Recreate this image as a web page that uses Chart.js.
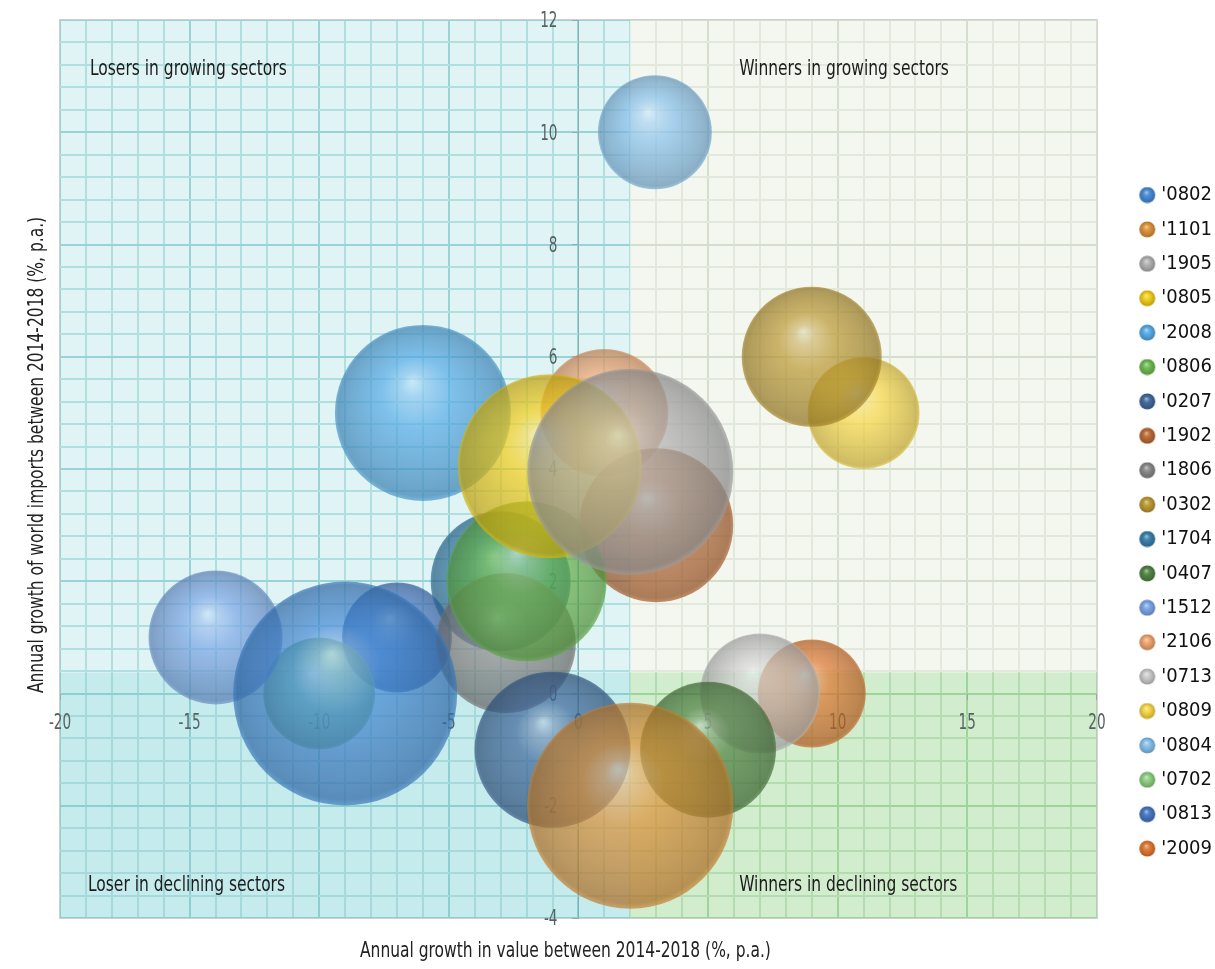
<!DOCTYPE html>
<html>
<head>
<meta charset="utf-8">
<script src="https://cdn.jsdelivr.net/npm/chart.js@4.4.1/dist/chart.umd.min.js"></script>
<style>
  html, body { margin: 0; padding: 0; background: #ffffff; }
  #wrap { position: relative; width: 1215px; height: 969px; }
</style>
</head>
<body>
<div id="wrap"><canvas id="chart" width="1215" height="969"></canvas></div>
<script>
// HS product codes, in legend order
const productCodes = ["'0802", "'1101", "'1905", "'0805", "'2008", "'0806", "'0207", "'1902", "'1806", "'0302",
                      "'1704", "'0407", "'1512", "'2106", "'0713", "'0809", "'0804", "'0702", "'0813", "'2009"];
// Annual growth in value 2014-2018 (%, p.a.)
const valueGrowth = [-9, 2, 2, -1.1, -6, -2, -1, 3, -2.8, 9, -3, 5, -14, 1, 7, 11, 2.95, -10, -7, 9];
// Annual growth of world imports 2014-2018 (%, p.a.)
const importGrowth = [0, -2, 3.95, 4.05, 5, 2, -1, 3, 0.9, 6, 2, -1, 1, 5, 0, 5, 10, 0, 1, 0];
// Bubble size (trade volume indicator)
const tradeSize = [112, 103, 103, 92, 88, 80, 78, 77, 70, 70, 70, 68, 67, 64, 60, 56, 57, 56, 55, 54];
const seriesColors = ['#3f86d4', '#dc8e32', '#adadad', '#f2cc10', '#4fa8e6', '#66b84a', '#3a6398', '#b8642c', '#838383', '#b8942a',
                      '#2f7aa8', '#4a7e3c', '#74a2e4', '#efa068', '#c8c8c8', '#f6d43c', '#80bdea', '#88cc7c', '#3e70c0', '#de7228'];
const xTickValues = [-20, -15, -10, -5, 0, 5, 10, 15, 20];
const yTickValues = [-4, -2, 0, 2, 4, 6, 8, 10, 12];
const quadrantSplit = { x: 2, y: 0.38 };
const quadrantLabels = ['Losers in growing sectors', 'Winners in growing sectors', 'Loser in declining sectors', 'Winners in declining sectors'];
const xTitle = 'Annual growth in value between 2014-2018 (%, p.a.)';
const yTitle = 'Annual growth of world imports between 2014-2018 (%, p.a.)';

const FONT = "'DejaVu Sans Condensed', 'Liberation Sans Narrow', Roboto, sans-serif";
const SIZE_TO_PX = 1;
const BUBBLE_ALPHA = 0.68;
const TEXT_SQUEEZE = 0.82;
const TICK_SQUEEZE = 0.72;

function hexToRgb(h) {
  const n = parseInt(h.slice(1), 16);
  return [(n >> 16) & 255, (n >> 8) & 255, n & 255];
}
function mix(rgb, target, t) {
  return rgb.map((c, i) => Math.round(c + (target[i] - c) * t));
}
function rgba(rgb, a) {
  return `rgba(${rgb[0]},${rgb[1]},${rgb[2]},${a})`;
}
// glassy sphere shading: bright highlight up-left, deeper rim
function sphereGradient(ctx, cx, cy, r, hex, alpha) {
  const base = hexToRgb(hex);
  const hx = cx - 0.12 * r, hy = cy - 0.36 * r;
  const g = ctx.createRadialGradient(hx, hy, 0, cx, cy, r);
  g.addColorStop(0, rgba(mix(base, [235, 255, 255], 0.7), alpha));
  g.addColorStop(0.14, rgba(mix(base, [255, 255, 255], 0.32), alpha));
  g.addColorStop(0.4, rgba(base, alpha));
  g.addColorStop(0.84, rgba(mix(base, [0, 0, 0], 0.17), alpha + 0.03));
  g.addColorStop(0.96, rgba(mix(base, [0, 0, 0], 0.22), alpha + 0.05));
  g.addColorStop(1, rgba(mix(base, [0, 0, 0], 0.1), alpha));
  return g;
}
// legend marker: sphere sitting in the right part of a wider transparent tile
function legendIcon(hex) {
  const c = document.createElement('canvas');
  c.width = 50; c.height = 17;
  const g = c.getContext('2d');
  g.fillStyle = sphereGradient(g, 41, 8.5, 8, hex, 0.94);
  g.beginPath(); g.arc(41, 8.5, 8, 0, Math.PI * 2); g.fill();
  return c;
}
const legendIcons = seriesColors.map(legendIcon);

const datasets = productCodes.map((code, i) => ({
  label: code,
  data: [{ x: valueGrowth[i], y: importGrowth[i], r: tradeSize[i] * SIZE_TO_PX }],
  borderWidth: 0,
  borderColor: 'rgba(0,0,0,0)',
  backgroundColor: (c) => {
    const chart = c.chart;
    const fallback = rgba(hexToRgb(seriesColors[i]), BUBBLE_ALPHA);
    if (!c.raw || !chart.scales || !chart.scales.x || !chart.scales.y) return fallback;
    const cx = chart.scales.x.getPixelForValue(c.raw.x);
    const cy = chart.scales.y.getPixelForValue(c.raw.y);
    const r = c.raw.r;
    if (!isFinite(cx) || !isFinite(cy) || !isFinite(r)) return fallback;
    return sphereGradient(chart.ctx, cx, cy, r, seriesColors[i], BUBBLE_ALPHA);
  }
}));

function squeezedText(ctx, text, x, y, align, angle, squeeze) {
  ctx.save();
  ctx.translate(x, y);
  if (angle) ctx.rotate(angle);
  ctx.scale(squeeze || TEXT_SQUEEZE, 1);
  ctx.textAlign = align;
  ctx.fillText(text, 0, 0);
  ctx.restore();
}

// graph-paper background split into four shaded quadrants
const paperPlugin = {
  id: 'paper',
  beforeDraw(chart) {
    const { ctx, chartArea: a, scales: { x, y } } = chart;
    const sx = x.getPixelForValue(quadrantSplit.x);
    const sy = y.getPixelForValue(quadrantSplit.y);
    const quads = [
      { x0: a.left, x1: sx, y0: a.top, y1: sy, fill: '#e1f4f5', minor: '#b0dfe0', major: '#99d3d5' },
      { x0: sx, x1: a.right, y0: a.top, y1: sy, fill: '#f4f7ef', minor: '#e1e9dc', major: '#d3dfcc' },
      { x0: a.left, x1: sx, y0: sy, y1: a.bottom, fill: '#c6ebec', minor: '#a5d9db', major: '#8dced0' },
      { x0: sx, x1: a.right, y0: sy, y1: a.bottom, fill: '#d2ecce', minor: '#b5dcb0', major: '#9ed39a' }
    ];
    ctx.save();
    quads.forEach(q => {
      ctx.save();
      ctx.beginPath();
      ctx.rect(q.x0, q.y0, q.x1 - q.x0, q.y1 - q.y0);
      ctx.clip();
      ctx.fillStyle = q.fill;
      ctx.fillRect(q.x0, q.y0, q.x1 - q.x0, q.y1 - q.y0);
      ctx.lineWidth = 2;
      // vertical lines every 1 unit, stronger every 5
      for (let k = 0; k <= Math.round(x.max - x.min); k++) {
        const px = Math.round(x.getPixelForValue(x.min + k));
        ctx.strokeStyle = (k % 5 === 0) ? q.major : q.minor;
        ctx.beginPath(); ctx.moveTo(px, a.top); ctx.lineTo(px, a.bottom); ctx.stroke();
      }
      // horizontal lines every 0.4 unit, stronger every 2
      const ny = Math.round((y.max - y.min) / 0.4);
      for (let k = 0; k <= ny; k++) {
        const py = Math.round(y.getPixelForValue(y.min + k * 0.4));
        ctx.strokeStyle = (k % 5 === 0) ? q.major : q.minor;
        ctx.beginPath(); ctx.moveTo(a.left, py); ctx.lineTo(a.right, py); ctx.stroke();
      }
      ctx.restore();
    });
    ctx.strokeStyle = '#cfcfcf';
    ctx.lineWidth = 1;
    ctx.strokeRect(a.left - 0.5, a.top - 0.5, a.right - a.left + 1, a.bottom - a.top + 1);

    // quadrant captions
    ctx.fillStyle = '#1c1c1c';
    ctx.font = `21px ${FONT}`;
    ctx.textBaseline = 'middle';
    const w = a.right - a.left;
    const leftX = a.left + 30, rightX = a.left + w * 0.655;
    squeezedText(ctx, quadrantLabels[0], leftX, a.top + 50, 'left');
    squeezedText(ctx, quadrantLabels[1], rightX, a.top + 50, 'left');
    squeezedText(ctx, quadrantLabels[2], leftX - 2, a.bottom - 32, 'left');
    squeezedText(ctx, quadrantLabels[3], rightX, a.bottom - 32, 'left');

    // axis titles
    ctx.fillStyle = '#222222';
    squeezedText(ctx, xTitle, (a.left + a.right) / 2 - 13, a.bottom + 34, 'center');
    squeezedText(ctx, yTitle, 38, (a.top + a.bottom) / 2 - 14, 'center', -Math.PI / 2);
    ctx.restore();
  }
};

// tick labels along the crossing axes, set off from the zero lines
const tickLabelPlugin = {
  id: 'crossTickLabels',
  beforeDatasetsDraw(chart) {
    const { ctx, scales: { x, y } } = chart;
    const x0 = x.getPixelForValue(0);
    const y0 = y.getPixelForValue(0);
    ctx.save();
    ctx.fillStyle = '#566262';
    ctx.font = `21px ${FONT}`;
    ctx.textBaseline = 'middle';
    y.ticks.forEach(t => {
      squeezedText(ctx, y.getLabelForValue(t.value), x0 - 21, y.getPixelForValue(t.value) + 2, 'right', 0, TICK_SQUEEZE);
    });
    x.ticks.forEach(t => {
      squeezedText(ctx, x.getLabelForValue(t.value), x.getPixelForValue(t.value), y0 + 30, 'center', 0, TICK_SQUEEZE);
    });
    ctx.restore();
  }
};

new Chart(document.getElementById('chart'), {
  type: 'bubble',
  data: { datasets },
  plugins: [paperPlugin, tickLabelPlugin],
  options: {
    responsive: false,
    animation: false,
    events: [],
    devicePixelRatio: 1,
    layout: { autoPadding: false, padding: { left: 60, top: 20, bottom: 51, right: -7 } },
    scales: {
      x: {
        type: 'linear',
        min: -20, max: 20,
        position: { y: 0 },
        afterBuildTicks: (s) => { s.ticks = xTickValues.map(v => ({ value: v })); },
        afterFit: (s) => { s.height = 0; s.paddingLeft = 0; s.paddingRight = 0; },
        grid: { drawOnChartArea: false, drawTicks: true, tickLength: 6, tickColor: '#9aa8a8' },
        border: { display: false },
        ticks: { display: false }
      },
      y: {
        type: 'linear',
        min: -4, max: 12,
        position: { x: 0 },
        afterBuildTicks: (s) => { s.ticks = yTickValues.map(v => ({ value: v })); },
        afterFit: (s) => { s.width = 0; s.paddingTop = 0; s.paddingBottom = 0; },
        grid: { drawOnChartArea: false, drawTicks: true, tickLength: 6, tickColor: '#9aa8a8' },
        border: { display: true, color: 'rgba(120,150,150,0.55)', width: 1 },
        ticks: { display: false }
      }
    },
    plugins: {
      tooltip: { enabled: false },
      legend: {
        position: 'right',
        align: 'center',
        title: { display: true, text: '', padding: { top: 91.2, bottom: 0 } },
        labels: {
          usePointStyle: true,
          pointStyleWidth: 40,
          boxHeight: 17,
          padding: 14.4,
          color: '#111111',
          font: { family: FONT, size: 20 },
          generateLabels: () => productCodes.map((code, i) => ({
            text: code,
            fillStyle: seriesColors[i],
            strokeStyle: 'rgba(0,0,0,0)',
            lineWidth: 0,
            pointStyle: legendIcons[i],
            fontColor: '#111111',
            hidden: false,
            datasetIndex: i
          }))
        }
      }
    }
  }
});
</script>
</body>
</html>
